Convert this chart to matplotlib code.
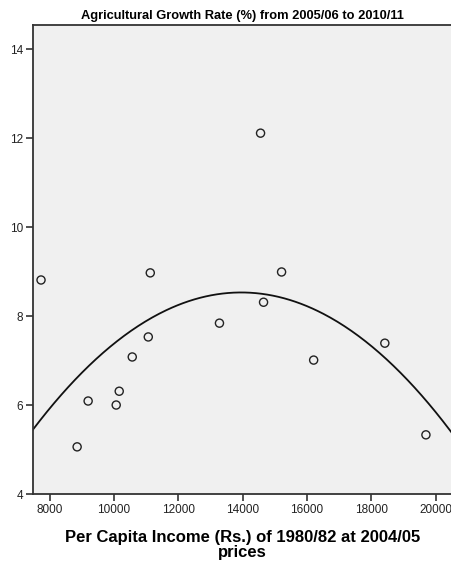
import numpy as np
import matplotlib
matplotlib.use("Agg")
import matplotlib.pyplot as plt

# per capita income (Rs.) and agricultural growth rate (%)
income = [7735, 8857, 9199, 10071, 10165, 10570, 11068, 11130,
          13280, 14557, 14650, 15210, 16207, 18419, 19696]
growth = [8.81, 5.06, 6.09, 6.00, 6.31, 7.08, 7.53, 8.97,
          7.84, 12.11, 8.31, 8.99, 7.01, 7.39, 5.33]

x_ticks = [8000, 10000, 12000, 14000, 16000, 18000, 20000]
y_ticks = [4, 6, 8, 10, 12, 14]

plt.rcParams['font.family'] = ['Liberation Sans', 'DejaVu Sans']

fig = plt.figure(figsize=(4.51, 5.78), dpi=100)
ax = fig.add_axes([0.0732, 0.1453, 0.93, 0.8114])
ax.set_facecolor('#f0f0f0')

xlim = (7486, 20520)
ax.set_xlim(*xlim)
ax.set_ylim(4, 14.54)

# quadratic fit line
coef = np.polyfit(income, growth, 2)
xs = np.linspace(xlim[0], xlim[1], 300)
ax.plot(xs, np.polyval(coef, xs), color='#111111', lw=1.3)

ax.scatter(income, growth, s=34, facecolors='none', edgecolors='#222222',
           linewidths=1.0, zorder=3)

ax.set_xticks(x_ticks)
ax.set_yticks(y_ticks)
ax.tick_params(direction='out', length=5, width=1.2, colors='#333333',
               labelsize=8.5, labelcolor='#222222', pad=2)
for sp in ax.spines.values():
    sp.set_color('#333333')
    sp.set_linewidth(1.3)

ax.set_title("Agricultural Growth Rate (%) from 2005/06 to 2010/11",
             fontsize=9.3, fontweight='bold', pad=4)
ax.set_xlabel("Per Capita Income (Rs.) of 1980/82 at 2004/05\nprices",
              fontsize=12, fontweight='bold', labelpad=10, linespacing=1.05)

fig.savefig("out.png", dpi=100, facecolor='white')
